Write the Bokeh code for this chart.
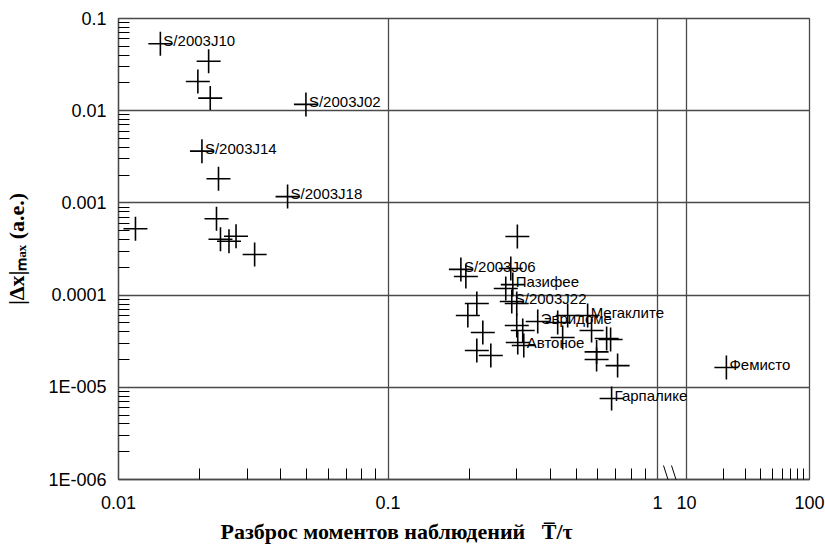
import math
from bokeh.plotting import figure
from bokeh.models import (Range1d, LogScale, FixedTicker, CustomJSTickFormatter,
                          Grid, Label, Arrow, ColumnDataSource)
from bokeh.core.properties import value
from bokeh.embed import file_html
from bokeh.resources import INLINE

# ---------------- data ----------------
x_main = [0.0143, 0.0216, 0.0197, 0.0219, 0.0496, 0.0204, 0.0235, 0.0424, 0.01156, 0.0231,
          0.0239, 0.0257, 0.0273, 0.0320,
          0.1864, 0.1945, 0.302, 0.2855, 0.2904, 0.2735, 0.2879, 0.3004, 0.2136, 0.1978,
          0.2248, 0.2136, 0.2407, 0.3004, 0.3162, 0.3030, 0.3594, 0.4262, 0.4642, 0.319,
          0.4447, 0.5505, 0.5693, 0.6475, 0.6699, 0.5943, 0.5943, 0.7111, 0.6756]
y_main = [0.0532, 0.0344, 0.0207, 0.0137, 0.0117, 0.00364, 0.00183, 0.00117, 0.000524, 0.000672,
          0.000404, 0.000384, 0.000435, 0.000276,
          1.90e-4, 1.59e-4, 4.32e-4, 1.94e-4, 1.30e-4, 1.18e-4, 8.52e-5, 8.11e-5, 8.11e-5, 6.01e-5,
          3.93e-5, 2.51e-5, 2.21e-5, 4.68e-5, 4.13e-5, 3.06e-5, 5.17e-5, 5.04e-5, 6.01e-5, 2.84e-5,
          3.47e-5, 6.01e-5, 4.13e-5, 3.38e-5, 3.30e-5, 2.42e-5, 2.00e-5, 1.72e-5, 7.56e-6]
names_main = [""] * len(x_main)
for i, n in {0: "S/2003J10", 4: "S/2003J02", 5: "S/2003J14", 7: "S/2003J18",
             14: "S/2003J06", 18: "Пазифее", 20: "S/2003J22", 30: "Эвридоме",
             33: "Автоное", 35: "Мегаклите", 42: "Гарпалике"}.items():
    names_main[i] = n

# point beyond the axis break (10 ... 100)
x_far = [21.1]
y_far = [1.64e-5]
names_far = ["Фемисто"]

x_tick_values = [0.01, 0.1, 1, 10, 100]
x_tick_labels = ["0.01", "0.1", "1", "10", "100"]
y_tick_values = [1e-6, 1e-5, 1e-4, 1e-3, 1e-2, 1e-1]
y_tick_labels = ["1E-006", "1E-005", "0.0001", "0.001", "0.01", "0.1"]

x_title = "Разброс моментов наблюдений\u00a0\u00a0\u00a0T\u0305/τ"
y_title = "|Δx|ₘₐₓ (a.e.)"

# ---------------- layout of the broken x axis ----------------
W, H = 825, 550
FL, FR, FT, FB = 118, 16, 18, 71
frame_w = W - FL - FR
dec_main = 269.5      # px per decade, 0.01 .. 1
gap = 29              # px of the break
dec_far = (frame_w - 2 * dec_main - gap)  # px per decade, 10 .. 100

main_start = 0.01
main_end = 10 ** (math.log10(main_start) + frame_w / dec_main)
far_end = 100.0
far_start = 10 ** (math.log10(far_end) - frame_w / dec_far)


def far_to_main(v):
    px = 2 * dec_main + gap + (math.log10(v) - 1) * dec_far
    return 10 ** (math.log10(main_start) + px / dec_main) * (1 - 1e-9)


GRID = "#4a4a4a"
SANS = "Liberation Sans"
SERIF = "Liberation Serif"

p = figure(width=W, height=H, x_axis_type="log", y_axis_type="log",
           x_range=Range1d(main_start, main_end), y_range=Range1d(1e-6, 0.1),
           output_backend="svg", toolbar_location=None,
           min_border_left=FL, min_border_right=FR, min_border_top=FT, min_border_bottom=FB)
p.extra_x_ranges = {"far": Range1d(far_start, far_end)}
p.extra_x_scales = {"far": LogScale()}
p.background_fill_color = "white"
p.border_fill_color = "white"
p.outline_line_color = GRID
p.outline_line_width = 1.3

# x axis ticks (main part + part after the break)
major_x = [v if v <= 1 else far_to_main(v) for v in x_tick_values]
minor_x = [k * 10 ** e for e in (-2, -1) for k in range(2, 10)] + \
          [far_to_main(k * 10) for k in range(2, 10)]
xa = p.xaxis[0]
xa.ticker = FixedTicker(ticks=major_x, minor_ticks=minor_x)
xa.formatter = CustomJSTickFormatter(args=dict(vals=major_x, labels=x_tick_labels), code="""
    for (let i = 0; i < vals.length; i++) {
        if (Math.abs(Math.log10(tick) - Math.log10(vals[i])) < 1e-5) return labels[i];
    }
    return "";
""")
ya = p.yaxis[0]
ya.ticker = FixedTicker(ticks=y_tick_values,
                        minor_ticks=[k * 10 ** e for e in range(-6, -1) for k in range(2, 10)])
ya.formatter = CustomJSTickFormatter(args=dict(vals=y_tick_values, labels=y_tick_labels), code="""
    for (let i = 0; i < vals.length; i++) {
        if (Math.abs(Math.log10(tick) - Math.log10(vals[i])) < 1e-5) return labels[i];
    }
    return "";
""")
for ax in (xa, ya):
    ax.axis_line_color = GRID
    ax.axis_line_width = 1.3
    ax.major_tick_in = 0
    ax.major_tick_out = 0
    ax.minor_tick_in = 11
    ax.minor_tick_out = 0
    ax.minor_tick_line_color = "black"
    ax.minor_tick_line_width = 1
    ax.major_label_text_font = SANS
    ax.major_label_text_font_size = "18px"
    ax.major_label_text_color = "black"
xa.major_label_standoff = 16
ya.major_label_standoff = 12

# y title as axis label
ya.axis_label = y_title
ya.axis_label_text_font = SERIF
ya.axis_label_text_font_style = "bold"
ya.axis_label_text_font_size = "22px"
ya.axis_label_text_color = "black"
ya.axis_label_standoff = 16

# grid
p.xgrid.ticker = FixedTicker(ticks=[0.1, 1])
p.ygrid.ticker = FixedTicker(ticks=[1e-5, 1e-4, 1e-3, 1e-2])
for g in (p.xgrid[0], p.ygrid[0]):
    g.grid_line_color = GRID
    g.grid_line_width = 1.3
g10 = Grid(dimension=0, ticker=FixedTicker(ticks=[10]), x_range_name="far",
           grid_line_color=GRID, grid_line_width=1.3)
p.add_layout(g10)

# points
src_main = ColumnDataSource(dict(x=x_main, y=y_main, name=names_main))
src_far = ColumnDataSource(dict(x=x_far, y=y_far, name=names_far))
for src, rn in ((src_main, "default"), (src_far, "far")):
    p.scatter(x="x", y="y", source=src, marker="cross", size=24,
              line_color="black", line_width=1.6, x_range_name=rn)
    p.text(x="x", y="y", text="name", source=src, x_offset=3, y_offset=-3,
           text_font=value(SANS), text_font_size="15px", text_color="black",
           text_align="left", text_baseline="alphabetic", x_range_name=rn)

# axis break marks
for dx in (0, 8):
    p.add_layout(Arrow(x_start=545 + dx, y_start=14, x_end=554 + dx, y_end=-14,
                       start_units="screen", end_units="screen", end=None,
                       line_color="black", line_width=1))

# x title in its own panel below the axis, placed like the original
p.add_layout(Label(x=102, y=5, x_units="screen", y_units="screen", text=x_title,
                   text_font=SERIF, text_font_style="bold", text_font_size="22px",
                   text_color="black", text_align="left", text_baseline="alphabetic"),
             "below")

open("out.html", "w").write(file_html(p, INLINE))
